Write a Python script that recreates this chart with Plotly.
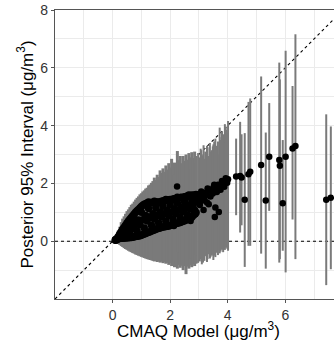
import plotly.graph_objects as go

# ---- data (CMAQ model vs posterior mean with 95% interval) ----
# dense part of the cloud: per CMAQ bin, the posterior means at the top, middle and bottom of the black band
dense_x = [0.10,0.15,0.20,0.25,0.30,0.35,0.40,0.45,0.50,0.55,0.60,0.65,0.70,0.75,0.80,0.85,0.90,0.95,1.00,1.05,
           1.10,1.15,1.20,1.25,1.30,1.35,1.40,1.45,1.50,1.55,1.60,1.65,1.70,1.75,1.80,1.85,1.90,1.95,2.00,2.05,
           2.10,2.15,2.20,2.25,2.30,2.35,2.40,2.45,2.50,2.55,2.60,2.65,2.70,2.75,2.80,2.85,2.90]
dense_top = [0.05,0.09,0.16,0.25,0.33,0.41,0.48,0.55,0.63,0.70,0.76,0.82,0.88,0.94,1.00,1.05,1.10,1.15,1.20,1.24,
             1.28,1.30,1.32,1.36,1.33,1.34,1.34,1.38,1.35,1.36,1.36,1.34,1.38,1.39,1.40,1.44,1.42,1.43,1.44,1.42,
             1.46,1.47,1.48,1.52,1.50,1.51,1.52,1.50,1.54,1.55,1.56,1.60,1.58,1.59,1.60,1.58,1.62]
dense_mid = [0.04,0.07,0.12,0.22,0.22,0.16,0.33,0.29,0.53,0.41,0.26,0.54,0.44,0.78,0.58,0.35,0.73,0.57,1.00,0.74,
             0.46,0.89,0.70,1.13,0.83,0.55,0.95,0.77,1.16,0.90,0.63,1.01,0.84,1.21,0.95,0.69,1.06,0.89,1.26,1.00,
             0.75,1.12,0.96,1.32,1.07,0.82,1.18,1.03,1.37,1.14,0.91,1.25,1.11,1.44,1.25,1.07,1.37]
dense_bot = [0.03,0.05,0.09,0.09,0.10,0.10,0.11,0.11,0.12,0.12,0.13,0.13,0.14,0.15,0.16,0.17,0.18,0.19,0.21,0.23,
             0.25,0.27,0.29,0.31,0.33,0.35,0.37,0.39,0.41,0.43,0.45,0.46,0.48,0.49,0.50,0.51,0.52,0.53,0.54,0.55,
             0.57,0.59,0.61,0.62,0.64,0.65,0.67,0.69,0.71,0.73,0.75,0.77,0.79,0.83,0.89,0.94,0.99]
dense_lo = [-0.02,-0.05,-0.09,-0.13,-0.17,-0.20,-0.24,-0.27,-0.30,-0.33,-0.36,-0.38,-0.41,-0.43,-0.46,-0.48,-0.50,-0.52,-0.54,-0.56,
            -0.58,-0.60,-0.62,-0.63,-0.65,-0.66,-0.68,-0.70,-0.68,-0.72,-0.70,-0.74,-0.71,-0.76,-0.73,-0.78,-0.75,-0.82,-0.76,-0.86,
            -0.78,-0.90,-0.80,-0.95,-0.82,-0.92,-0.85,-1.00,-0.86,-1.14,-0.88,-0.95,-0.84,-0.90,-0.80,-0.86,-0.78]
dense_hi = [0.12,0.24,0.38,0.50,0.66,0.78,0.86,0.95,1.04,1.10,1.18,1.26,1.30,1.37,1.44,1.50,1.55,1.62,1.66,1.72,
            1.76,1.82,1.85,1.93,1.96,2.02,2.08,2.20,2.12,2.30,2.22,2.45,2.36,2.52,2.40,2.62,2.48,2.70,2.55,2.85,
            2.50,2.72,2.60,3.12,2.80,2.95,2.70,2.95,2.78,3.00,2.82,3.05,2.90,3.08,2.88,3.10,2.95]

sparse_x = [2.97,3.03,3.06,3.10,3.16,3.19,3.22,3.28,3.34,3.38,3.45,3.50,3.55,3.57,3.60,3.66,3.69,3.72,3.78,3.84,
            3.90,3.95,4.01,2.71,2.88,2.24,2.13,3.00,3.08,3.14,3.25,3.30,3.40,3.48,3.53,3.62,3.75,3.80,3.88,3.98,3.93]
sparse_mean = [1.62,1.25,1.60,1.40,1.08,1.45,1.68,1.34,1.28,1.75,1.78,1.85,0.84,1.17,1.88,1.95,1.01,1.90,1.98,2.02,
               2.05,2.10,2.14,0.70,0.93,1.89,0.53,1.50,1.72,1.55,1.60,1.82,1.55,1.65,1.95,1.70,1.78,2.08,1.88,2.02,2.18]
sparse_lo = [-0.75,-0.70,-0.62,-0.80,-0.55,-0.68,-0.50,-0.72,-0.45,-0.60,-0.50,-0.65,-0.40,-0.55,-0.35,-0.48,-0.30,-0.42,-0.25,-0.38,
             -0.30,-0.20,-0.33,-0.60,-0.50,-0.40,-0.70,-0.66,-0.58,-0.74,-0.52,-0.62,-0.55,-0.44,-0.50,-0.40,-0.36,-0.30,-0.28,-0.26,-0.22]
sparse_hi = [3.05,2.90,3.20,3.00,3.32,2.85,3.10,3.30,2.95,3.40,3.15,3.35,2.80,3.55,3.30,3.45,3.00,3.93,3.60,3.70,
             4.05,3.85,4.16,2.50,2.70,3.00,2.30,2.88,3.15,2.95,3.05,3.25,3.10,3.28,3.45,3.20,3.50,3.80,3.40,3.75,3.95]

far_x = [4.29,4.43,4.48,4.59,4.72,4.78,5.16,5.32,5.44,5.79,5.81,5.91,6.01,6.25,6.35,7.42,7.58]
far_mean = [2.24,2.26,2.20,1.43,2.32,2.40,2.64,1.41,2.92,2.81,2.61,1.31,2.92,3.21,3.29,1.43,1.50]
far_lo = [0.90,0.30,0.55,-0.89,-0.16,-0.16,-0.43,-0.95,1.05,-0.74,-0.62,-0.33,-1.08,0.75,-0.62,-1.52,-0.97]
far_hi = [3.55,4.13,3.70,3.74,4.82,4.94,5.70,3.76,4.78,6.18,5.60,3.50,6.59,5.37,7.16,4.39,3.97]

x_ticks = [0, 2, 4, 6]
y_ticks = [0, 2, 4, 6, 8]
x_minor = [-1, 1, 3, 5, 7]
y_minor = [-1, 1, 3, 5, 7]
x_range = [-2, 7.69]
y_range = [-2, 8]

BAR = "rgb(122,122,122)"


def bars(x, m, lo, hi, thick):
    return go.Scatter(
        x=x, y=m, mode="markers", marker=dict(size=1, opacity=0), hoverinfo="skip",
        error_y=dict(type="data", symmetric=False,
                     array=[h - v for h, v in zip(hi, m)],
                     arrayminus=[v - l for v, l in zip(m, lo)],
                     width=0, thickness=thick, color=BAR))


fig = go.Figure()
# reference lines (drawn below the data)
fig.add_trace(go.Scatter(x=[-2, 8], y=[-2, 8], mode="lines",
                         line=dict(color="black", width=1.1, dash="3px,3px"), hoverinfo="skip"))
fig.add_trace(go.Scatter(x=[-2, 8], y=[0, 0], mode="lines",
                         line=dict(color="black", width=1.1, dash="3px,3px"), hoverinfo="skip"))
# 95% intervals
fig.add_trace(bars(dense_x, dense_mid, dense_lo, dense_hi, 3))
fig.add_trace(bars(sparse_x + far_x, sparse_mean + far_mean, sparse_lo + far_lo, sparse_hi + far_hi, 2))
# posterior means
fig.add_trace(go.Scatter(x=dense_x * 3, y=dense_top + dense_mid + dense_bot, mode="markers",
                         marker=dict(size=7.5, color="black", line=dict(width=0))))
fig.add_trace(go.Scatter(x=sparse_x + far_x, y=sparse_mean + far_mean, mode="markers",
                         marker=dict(size=6.5, color="black", line=dict(width=0))))

grid = "#ebebeb"
axis_common = dict(showline=True, linecolor="#555555", linewidth=1.2,
                   ticks="outside", ticklen=3, tickcolor="#555555",
                   showgrid=True, gridcolor=grid, gridwidth=1, zeroline=False,
                   tickfont=dict(family="Liberation Sans, Arial", size=14, color="#333333"))
fig.update_xaxes(range=x_range, tickvals=x_ticks, mirror=True,
                 minor=dict(tickvals=x_minor, showgrid=True, gridcolor=grid, gridwidth=1, ticks=""),
                 **axis_common)
fig.update_yaxes(range=y_range, tickvals=y_ticks, mirror=False,
                 minor=dict(tickvals=y_minor, showgrid=True, gridcolor=grid, gridwidth=1, ticks=""),
                 **axis_common)

fig.update_layout(
    width=334, height=341, showlegend=False,
    margin=dict(l=55, r=0, t=10, b=42),
    plot_bgcolor="white", paper_bgcolor="white",
    font=dict(family="Liberation Sans, Arial", color="black"),
    annotations=[
        dict(text="CMAQ Model (μg/m<sup>3</sup>)", xref="x", yref="paper", x=3, y=-0.107,
             xanchor="center", yanchor="middle", showarrow=False, font=dict(size=17)),
        dict(text="Posterior 95% Interval (μg/m<sup>3</sup>)", xref="paper", yref="paper",
             x=-0.1075, y=0.5, textangle=-90, xanchor="center", yanchor="middle",
             showarrow=False, font=dict(size=17)),
    ],
)

fig.write_html("out.html")
